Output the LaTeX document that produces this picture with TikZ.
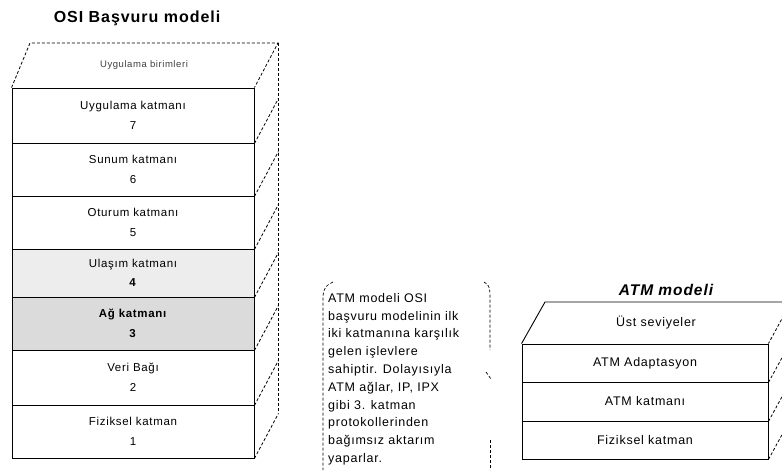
\documentclass[tikz,border=0pt]{standalone}
\usepackage{fontspec}
\setmainfont{Liberation Sans}
\newfontfamily\spacedfont[LetterSpace=6]{Liberation Sans}
\begin{document}
\begin{tikzpicture}[x=1pt,y=-1pt,
  osilayer/.style={draw, line width=0.9pt, minimum width=242pt, inner sep=0pt, align=center,
    font=\spacedfont\fontsize{11.5}{19.5}\selectfont},
  atmlayer/.style={draw, line width=0.9pt, minimum width=246pt, inner sep=0pt, align=center,
    font=\spacedfont\fontsize{12.5}{14}\selectfont},
  sideedge/.style={densely dashed, line width=0.8pt},
  bracketline/.style={densely dashed, line width=0.7pt},
  titletext/.style={font=\spacedfont\fontsize{16}{18}\selectfont\bfseries}]
\useasboundingbox (0,0) rectangle (782,475);

% ---------------- OSI model ----------------
\node[titletext] (osititle) at (137,18) {OSI Başvuru modeli};

\node[osilayer, minimum height=55pt] (l7) at (133,115.5) {Uygulama katmanı\\7};
\node[osilayer, minimum height=53pt] (l6) at (133,169.5) {Sunum katmanı\\6};
\node[osilayer, minimum height=53pt] (l5) at (133,222.5) {Oturum katmanı\\5};
\node[osilayer, minimum height=48pt, fill=gray!14] (l4) at (133,273) {Ulaşım katmanı\\\textbf{4}};
\node[osilayer, minimum height=53pt, fill=gray!28] (l3) at (133,323.5) {\textbf{Ağ katmanı}\\\textbf{3}};
\node[osilayer, minimum height=55pt] (l2) at (133,377.5) {Veri Bağı\\2};
\node[osilayer, minimum height=53pt] (l1) at (133,431.5) {Fiziksel katman\\1};

% top face
\coordinate (otbl) at (30,43);
\coordinate (otbr) at (278,43);
\draw[sideedge] (l7.north west) -- (otbl) -- (otbr) -- (l7.north east);
\node[font=\spacedfont\fontsize{9.5}{11}\selectfont, text=black!75] (ositop) at (144,65.5) {Uygulama birimleri};

% side faces
\draw[sideedge] (otbr) -- (278,413);
\foreach \n in {l7,l6,l5,l4,l3,l2,l1}{
  \draw[sideedge] (\n.south east) -- ++(24,-45);
}

% ---------------- explanatory note ----------------
\node[anchor=north west, align=left, inner sep=0pt,
      font=\spacedfont\fontsize{12.5}{17.8}\selectfont] (note) at (328,293)
 {ATM modeli OSI\\
  başvuru modelinin ilk\\
  iki katmanına karşılık\\
  gelen işlevlere\\
  sahiptir. Dolayısıyla\\
  ATM ağlar, IP, IPX\\
  gibi 3. katman\\
  protokollerinden\\
  bağımsız aktarım\\
  yaparlar.};
\draw[bracketline] (333,282) to[out=200,in=90] (323,296) -- (323,470);
\draw[bracketline] (484,282) to[out=-20,in=90] (490,296) -- (490,350);
\draw[bracketline] (486,372) -- (491,379);
\draw[bracketline] (490,440) -- (490,470);

% ---------------- ATM model ----------------
\node[font=\spacedfont\fontsize{15.5}{18}\selectfont\bfseries\itshape] (atmtitle) at (666,290) {ATM modeli};

\node[atmlayer, minimum height=38pt] (a3) at (645,363) {ATM Adaptasyon};
\node[atmlayer, minimum height=39pt] (a2) at (645,401.5) {ATM katmanı};
\node[atmlayer, minimum height=38pt] (a1) at (645,440) {Fiziksel katman};

\coordinate (atbl) at (545,302);
\coordinate (atbr) at (791,302);
\draw[line width=0.9pt] (a3.north west) -- (atbl) -- (atbr);
\draw[sideedge] (atbr) -- (a3.north east);
\node[font=\spacedfont\fontsize{12.5}{14}\selectfont] (atmtop) at (656,323) {Üst seviyeler};
\foreach \n in {a3,a2,a1}{
  \draw[sideedge] (\n.south east) -- ++(23,-42);
}
\end{tikzpicture}
\end{document}
